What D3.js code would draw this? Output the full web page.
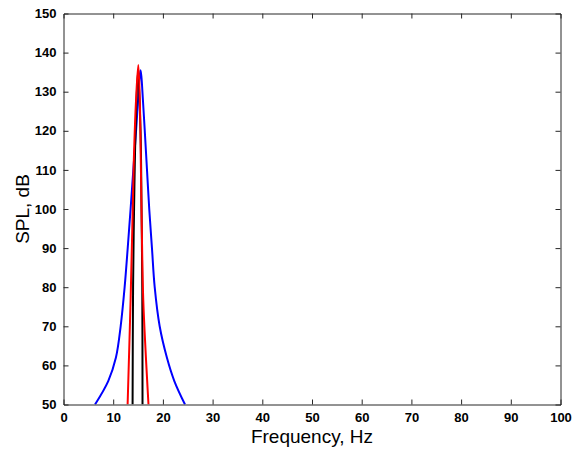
<!DOCTYPE html>
<html>
<head>
<meta charset="utf-8">
<script src="https://cdn.jsdelivr.net/npm/d3@7"></script>
<style>
  html, body { margin: 0; padding: 0; background: #fff; }
  svg { display: block; }
  text { font-family: "Liberation Sans", Arial, Helvetica, sans-serif; }
</style>
</head>
<body>
<svg id="chart" width="575" height="452"></svg>
<script>
// ---- data ----
const xTicks = [0, 10, 20, 30, 40, 50, 60, 70, 80, 90, 100];
const yTicks = [50, 60, 70, 80, 90, 100, 110, 120, 130, 140, 150];

const blueFreq = [6.34, 9.0, 10.55, 11.5, 12.3, 12.92, 13.5, 14.05, 14.6, 15.12, 15.3, 15.5, 15.7, 15.88, 16.35, 16.8, 17.25, 17.8, 18.35, 19.35, 20.8, 22.3, 24.45];
const blueSPL  = [50, 56, 62, 70, 80, 90, 100, 110, 120, 130, 133.5, 135.5, 133.5, 130, 120, 110, 100, 90, 80, 70, 62, 56, 50];

const blackFreq = [13.9, 14.0, 14.2, 14.5, 15.0, 15.5, 15.7, 15.85, 15.9];
const blackSPL  = [50, 80, 100, 120, 135.5, 120, 100, 80, 50];

const redFreq = [12.9, 13.5, 13.85, 14.15, 14.6, 15.05, 15.35, 15.55, 15.75, 16.05, 17.1];
const redSPL  = [50, 76.7, 95.5, 112.5, 128, 136.8, 128, 112.5, 95.5, 76.7, 50];

const xLabel = "Frequency, Hz";
const yLabel = "SPL, dB";

// ---- layout ----
const svg = d3.select("#chart");
const mLeft = 63.5, mRight = 560.5, mTop = 13.5, mBottom = 404.5;

const x = d3.scaleLinear().domain([0, 100]).range([mLeft, mRight]);
const y = d3.scaleLinear().domain([50, 150]).range([mBottom, mTop]);

const tickLen = 5;
const axisColor = "#262626";

// clip for lines
svg.append("clipPath").attr("id", "clip")
  .append("rect").attr("x", mLeft).attr("y", mTop)
  .attr("width", mRight - mLeft).attr("height", mBottom - mTop);

const line = d3.line()
  .x(d => x(d[0]))
  .y(d => y(d[1]))
  .curve(d3.curveCatmullRom.alpha(0.5));

const plot = svg.append("g").attr("clip-path", "url(#clip)");

function draw(fr, spl, color) {
  const pts = fr.map((f, i) => [f, spl[i]]);
  plot.append("path")
    .datum(pts)
    .attr("fill", "none")
    .attr("stroke", color)
    .attr("stroke-width", 2)
    .attr("stroke-linejoin", "round")
    .attr("d", line);
}
draw(blueFreq, blueSPL, "#0000ff");
draw(blackFreq, blackSPL, "#000000");
draw(redFreq, redSPL, "#ff0000");

// bottom axis
const xb = svg.append("g").attr("transform", `translate(0,${mBottom})`)
  .call(d3.axisBottom(x).tickValues(xTicks).tickSize(-tickLen).tickPadding(8).tickFormat(d3.format("d")));
// top axis (ticks only)
const xt = svg.append("g").attr("transform", `translate(0,${mTop})`)
  .call(d3.axisTop(x).tickValues(xTicks).tickSize(-tickLen).tickFormat(""));
// left axis
const yl = svg.append("g").attr("transform", `translate(${mLeft},0)`)
  .call(d3.axisLeft(y).tickValues(yTicks).tickSize(-tickLen).tickPadding(7).tickFormat(d3.format("d")));
// right axis (ticks only)
const yr = svg.append("g").attr("transform", `translate(${mRight},0)`)
  .call(d3.axisRight(y).tickValues(yTicks).tickSize(-tickLen).tickFormat(""));

[xb, xt, yl, yr].forEach(g => {
  g.select(".domain").attr("stroke", axisColor).attr("stroke-width", 1);
  g.selectAll(".tick line").attr("stroke", axisColor).attr("stroke-width", 1);
  g.selectAll(".tick text")
    .attr("fill", "#000")
    .style("font-size", "13px")
    .style("font-weight", "bold")
    .style("font-family", "'Liberation Sans', Arial, sans-serif");
});
[xb, xt].forEach(g => g.selectAll(".tick line").filter(d => d === 0 || d === 100).remove());
[yl, yr].forEach(g => g.selectAll(".tick line").filter(d => d === 50 || d === 150).remove());

// axis labels
svg.append("text")
  .attr("x", (mLeft + mRight) / 2)
  .attr("y", 443)
  .attr("text-anchor", "middle")
  .style("font-size", "19px")
  .attr("fill", "#000")
  .text(xLabel);

svg.append("text")
  .attr("transform", `translate(29,${(mTop + mBottom) / 2}) rotate(-90)`)
  .attr("text-anchor", "middle")
  .style("font-size", "19px")
  .attr("fill", "#000")
  .text(yLabel);
</script>
</body>
</html>
